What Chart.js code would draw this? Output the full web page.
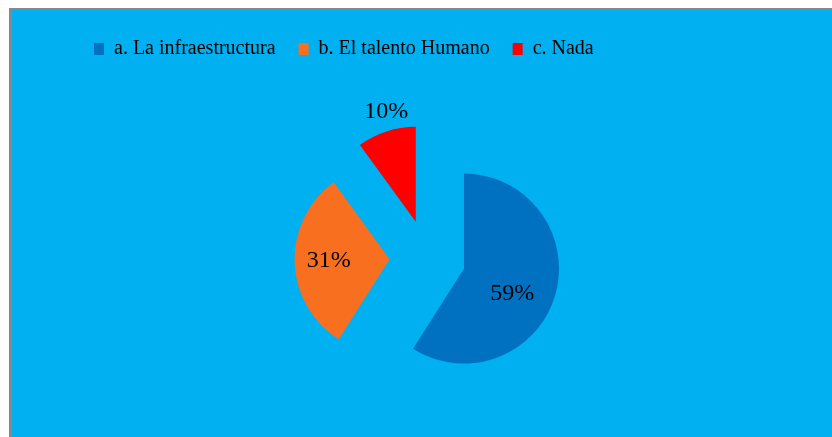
<!DOCTYPE html>
<html>
<head>
<meta charset="utf-8">
<script src="https://cdn.jsdelivr.net/npm/chart.js@4/dist/chart.umd.min.js"></script>
<style>
  html, body { margin: 0; padding: 0; background: #ffffff; overflow: hidden; }
  #c { display: block; }
</style>
</head>
<body>
<canvas id="c" width="832" height="460"></canvas>
<script>
const categories = ['a. La infraestructura', 'b. El talento Humano', 'c. Nada'];
const values = [59, 31, 10];
const valueLabels = ['59%', '31%', '10%'];
const sliceColors = ['#0070C0', '#F8701F', '#FF0000'];

const bgPlugin = {
  id: 'bg',
  beforeDraw(chart) {
    const ctx = chart.ctx;
    ctx.save();
    ctx.fillStyle = '#ffffff';
    ctx.fillRect(0, 0, chart.width, chart.height);
    ctx.fillStyle = '#888888';
    ctx.fillRect(9, 8, chart.width, chart.height);
    ctx.fillStyle = '#00B0F0';
    ctx.fillRect(12, 10, chart.width, chart.height);
    ctx.restore();
  }
};

// Explode every slice outward from the pie centre by a fixed distance,
// keeping the radius unchanged.
const explodePlugin = {
  id: 'explode',
  afterDatasetUpdate(chart, args, opts) {
    const area = chart.chartArea;
    const cx = (area.left + area.right) / 2;
    const cy = (area.top + area.bottom) / 2;
    args.meta.data.forEach((arc) => {
      const mid = (arc.startAngle + arc.endAngle) / 2;
      arc.x = cx + Math.cos(mid) * opts.distance;
      arc.y = cy + Math.sin(mid) * opts.distance;
    });
  }
};

const labelPlugin = {
  id: 'sliceLabels',
  afterDatasetsDraw(chart, args, opts) {
    const ctx = chart.ctx;
    const meta = chart.getDatasetMeta(0);
    ctx.save();
    ctx.font = opts.font;
    ctx.fillStyle = opts.color;
    ctx.textAlign = 'center';
    ctx.textBaseline = 'middle';
    meta.data.forEach((arc, i) => {
      const mid = (arc.startAngle + arc.endAngle) / 2 + opts.angleShift[i] * Math.PI / 180;
      const d = opts.factors[i] * arc.outerRadius;
      ctx.fillText(valueLabels[i], arc.x + Math.cos(mid) * d, arc.y + Math.sin(mid) * d);
    });
    ctx.restore();
  }
};

new Chart(document.getElementById('c'), {
  type: 'pie',
  data: {
    labels: categories,
    datasets: [{
      data: values,
      backgroundColor: sliceColors,
      borderWidth: 0,
      radius: 95
    }]
  },
  plugins: [bgPlugin, explodePlugin, labelPlugin],
  options: {
    responsive: false,
    animation: false,
    events: [],
    layout: { padding: { left: 71, right: 48, top: 16, bottom: 13 } },
    plugins: {
      tooltip: { enabled: false },
      legend: {
        position: 'top',
        align: 'start',
        labels: {
          boxWidth: 10,
          boxHeight: 12,
          padding: 23,
          color: '#000000',
          font: { family: '"Liberation Serif", "Times New Roman", serif', size: 20 }
        }
      },
      explode: { distance: 38 },
      sliceLabels: {
        font: '24px "Liberation Serif", "Times New Roman", serif',
        color: '#000000',
        factors: [0.57, 0.64, 1.2],
        angleShift: [11, 0, 3]
      }
    }
  }
});
</script>
</body>
</html>
